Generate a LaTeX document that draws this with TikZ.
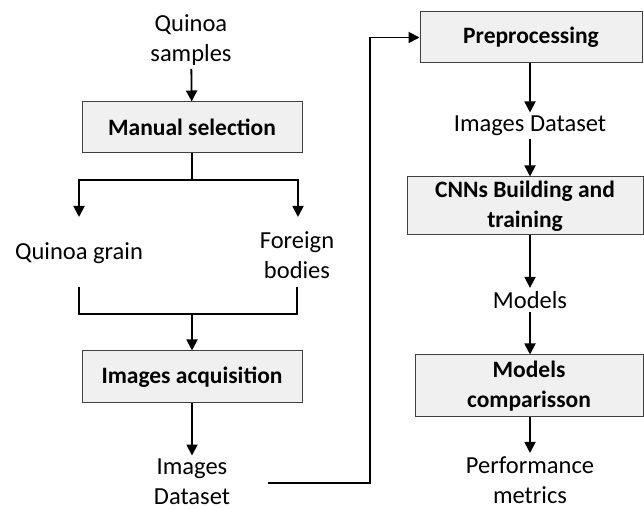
\documentclass[tikz,border=0pt]{standalone}
\usepackage{fontspec}
\setmainfont{Carlito}
\usepackage{tikz}
\usetikzlibrary{
    arrows.meta,
    calc,
    positioning
}

\begin{document}
\begin{tikzpicture}[
                        x=10pt, y=10pt,
                        every node/.style={font=\fontsize{24.5}{30}\selectfont, align=center},
                        stagebox/.style={draw=black!75, line width=1pt, fill=black!6, font=\fontsize{23.5}{30}\selectfont\bfseries},
                        link/.style={line width=1.8pt},
                        flow/.style={line width=1.8pt, -{Triangle[width=11pt, length=11pt]}}
                    ]
                        \useasboundingbox (0, 0) rectangle (64.4, 51.0);

                        \node (samples) at (19.1, 47.0) {Quinoa\\samples};
                        \node[stagebox, minimum width=220pt, minimum height=51pt] (manual) at (19.2, 38.25) {Manual selection};
                        \node (grain) at (7.9, 25.7) {Quinoa grain};
                        \node (foreign) at (29.7, 25.5) {Foreign\\bodies};
                        \node[stagebox, minimum width=220pt, minimum height=52pt] (acquisition) at (19.2, 13.3) {Images acquisition};
                        \node (datasetA) at (19.2, 2.8) {Images\\Dataset};

                        \node[stagebox, minimum width=222pt, minimum height=51pt] (preprocess) at (53.1, 47.25) {Preprocessing};
                        \node (datasetB) at (53.0, 38.4) {Images Dataset};
                        \node[stagebox, minimum width=236pt, minimum height=58pt] (cnn) at (52.5, 30.4) {CNNs Building and\\training};
                        \node (models) at (53.0, 21.0) {Models};
                        \node[stagebox, minimum width=228pt, minimum height=62pt] (comparison) at (52.9, 12.4) {Models\\comparisson};
                        \node (metrics) at (53.0, 3.0) {Performance\\metrics};

                        \coordinate (split) at (19.2, 33.0);
                        \coordinate (grainIn) at (7.9, 29.3);
                        \coordinate (foreignIn) at (29.8, 29.3);
                        \coordinate (grainOut) at (7.9, 22.3);
                        \coordinate (foreignOut) at (29.7, 22.3);
                        \coordinate (merge) at (19.2, 19.6);
                        \coordinate (exit) at (26.8, 2.7);
                        \coordinate (turn) at (37.0, 2.7);

                        \draw[flow] (samples) -- (manual);
                        \draw[link] (manual) -- (split);
                        \draw[flow] (split) -| (grainIn);
                        \draw[flow] (split) -| (foreignIn);
                        \draw[link] (grainOut) |- (merge) -| (foreignOut);
                        \draw[flow] (merge) -- (acquisition);
                        \draw[flow] (acquisition) -- (datasetA);
                        \draw[flow] (exit) -- (turn) |- (preprocess);

                        \draw[flow] (preprocess.south -| datasetB) -- (datasetB);
                        \draw[flow] (datasetB) -- (cnn.north -| datasetB);
                        \draw[flow] (cnn.south -| models) -- (models);
                        \draw[flow] (models) -- (comparison.north -| models);
                        \draw[flow] (comparison.south -| metrics) -- (metrics);
                    \end{tikzpicture}
\end{document}
